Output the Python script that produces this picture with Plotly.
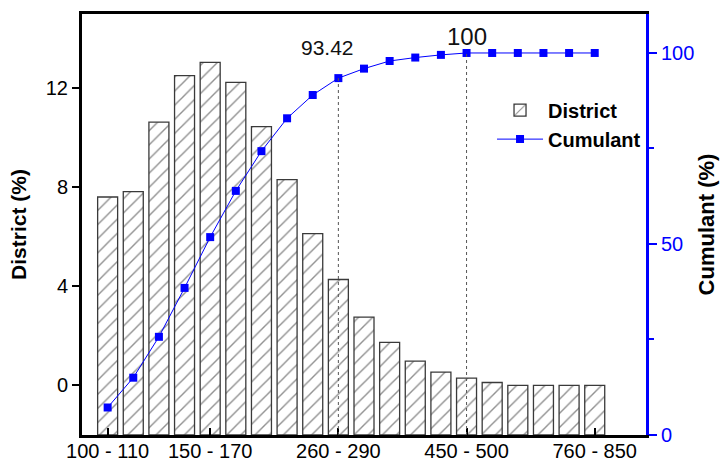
import plotly.graph_objects as go

# ---------------- data ----------------
categories = [
    "100 - 110", "110 - 120", "120 - 135", "135 - 150", "150 - 170",
    "170 - 190", "190 - 210", "210 - 230", "230 - 260", "260 - 290",
    "290 - 320", "320 - 350", "350 - 400", "400 - 450", "450 - 500",
    "500 - 550", "550 - 600", "600 - 680", "680 - 760", "760 - 850",
]
district = [7.61, 7.83, 10.63, 12.51, 13.05, 12.24, 10.45, 8.31, 6.13, 4.28,
            2.76, 1.74, 0.98, 0.54, 0.30, 0.12, 0.0, 0.0, 0.0, 0.0]
cumulant = [7.2, 15.0, 25.7, 38.5, 51.8, 63.9, 74.3, 82.9, 89.0, 93.42,
            95.9, 97.9, 98.8, 99.5, 100, 100, 100, 100, 100, 100]
x_tick_idx = [0, 4, 9, 14, 19]
marked_idx = [9, 14]          # points marked with dotted drop lines
left_ticks = [0, 4, 8, 12]
right_ticks = [0, 50, 100]

# ---------------- styles ----------------
FONT = "Liberation Sans, Arial, sans-serif"
Y_BASE = -2
BLUE = "#0000FF"

fig = go.Figure()

fig.add_trace(go.Bar(
    x=categories,
    y=[v - Y_BASE for v in district],
    base=Y_BASE,
    name="District",
    marker=dict(
        color="white",
        line=dict(color="#3a3a3a", width=1.3),
        pattern=dict(shape="/", fgcolor="#222222", bgcolor="white",
                     size=10, solidity=0.14, fillmode="overlay"),
    ),
    customdata=district,
    hovertemplate="%{x}: %{customdata}%<extra></extra>",
    yaxis="y",
))

fig.add_trace(go.Scatter(
    x=categories,
    y=cumulant,
    name="Cumulant",
    mode="lines+markers",
    line=dict(color=BLUE, width=1),
    marker=dict(symbol="square", size=8, color=BLUE),
    yaxis="y2",
))

# dotted drop lines + value labels
for i in marked_idx:
    fig.add_shape(type="line", xref="x", yref="y2",
                  x0=categories[i], x1=categories[i], y0=0, y1=cumulant[i],
                  line=dict(color="#555555", width=1, dash="dot"), layer="above")

fig.add_annotation(x=categories[marked_idx[0]], y=cumulant[marked_idx[0]], yref="y2",
                   text=f"{cumulant[marked_idx[0]]:g}", showarrow=False,
                   xshift=-11, yshift=31, font=dict(family=FONT, size=21, color="#111"))
fig.add_annotation(x=categories[marked_idx[1]], y=cumulant[marked_idx[1]], yref="y2",
                   text=f"{cumulant[marked_idx[1]]:g}", showarrow=False,
                   xshift=0, yshift=16, font=dict(family=FONT, size=24, color="#111"))

fig.update_layout(
    width=720, height=462,
    margin=dict(l=82, r=74, t=14, b=27),
    paper_bgcolor="white", plot_bgcolor="white",
    bargap=0.22,
    font=dict(family=FONT, size=20, color="black"),
    showlegend=True,
    legend=dict(
        x=0.727, y=0.818, xanchor="left", yanchor="top",
        bgcolor="rgba(0,0,0,0)",
        font=dict(family=FONT, size=20, color="black", weight="bold"),
        itemwidth=46, tracegroupgap=0,
    ),
    xaxis=dict(
        type="category",
        range=[-1, len(categories) + 1],
        tickmode="array",
        tickvals=[categories[i] for i in x_tick_idx],
        ticktext=[categories[i] for i in x_tick_idx],
        ticks="inside", ticklen=7, tickwidth=2, tickcolor="black",
        showline=True, linecolor="black", linewidth=3, mirror=True,
        showgrid=False, zeroline=False,
        tickfont=dict(family=FONT, size=20, color="black"),
        ticklabelstandoff=-4,
        automargin=False,
    ),
    yaxis=dict(
        range=[-2, 15],
        tickvals=left_ticks,
        ticks="outside", ticklen=7, tickwidth=2, tickcolor="black",
        showline=True, linecolor="black", linewidth=3,
        showgrid=False, zeroline=False,
        tickfont=dict(family=FONT, size=20, color="black"),
        title=dict(text="District (%)", standoff=14,
                   font=dict(family=FONT, size=21, color="black", weight="bold")),
        automargin=False,
    ),
    yaxis2=dict(
        overlaying="y", side="right",
        range=[0, 110.2],
        tickvals=right_ticks,
        ticks="outside", ticklen=8, tickwidth=2, tickcolor=BLUE,
        minor=dict(tickvals=[25, 75], ticks="outside", ticklen=5, tickwidth=2, tickcolor=BLUE),
        showline=True, linecolor=BLUE, linewidth=3,
        showgrid=False, zeroline=False,
        tickfont=dict(family=FONT, size=20, color=BLUE),
        title=dict(text="Cumulant (%)", standoff=6,
                   font=dict(family=FONT, size=22, color="black", weight="bold")),
        automargin=False,
    ),
)

fig.write_html("out.html")
